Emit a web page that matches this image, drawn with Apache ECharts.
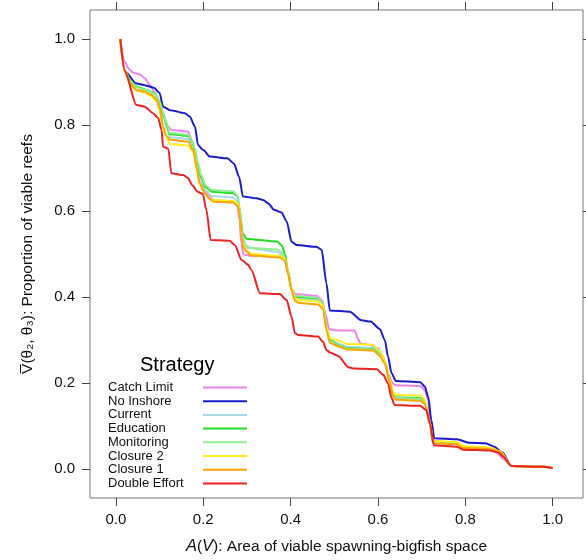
<!DOCTYPE html>
<html>
<head>
<meta charset="utf-8">
<script src="https://cdn.jsdelivr.net/npm/echarts@6.0.0/dist/echarts.min.js"></script>
<style>
html,body{margin:0;padding:0;background:#fff;}
#chart{width:586px;height:560px;}
</style>
</head>
<body>
<div id="chart"></div>
<script>
// ---- data ----
const strategies = ["Catch Limit","No Inshore","Current","Education","Monitoring","Closure 2","Closure 1","Double Effort"];
const colors = ["#ee82ee","#1c1ccc","#a8d8ea","#22dd22","#90ee90","#ffee22","#ffa500","#ee2222"];
const tickValues = [0,0.2,0.4,0.6,0.8,1.0];

const catchLimit = [[0.01,1.0],[0.02,0.948],[0.03,0.93],[0.04,0.922],[0.055,0.918],[0.066,0.909],[0.078,0.893],[0.089,0.876],[0.1,0.855],[0.108,0.822],[0.116,0.8],[0.128,0.789],[0.165,0.785],[0.175,0.762],[0.181,0.735],[0.186,0.703],[0.192,0.665],[0.204,0.649],[0.215,0.632],[0.225,0.626],[0.268,0.622],[0.278,0.612],[0.283,0.58],[0.287,0.525],[0.292,0.499],[0.31,0.496],[0.375,0.494],[0.386,0.487],[0.394,0.458],[0.402,0.42],[0.41,0.407],[0.46,0.403],[0.472,0.392],[0.48,0.36],[0.488,0.326],[0.5,0.323],[0.547,0.322],[0.553,0.305],[0.56,0.292],[0.58,0.289],[0.6,0.281],[0.612,0.261],[0.623,0.223],[0.633,0.2],[0.64,0.195],[0.696,0.193],[0.707,0.184],[0.715,0.16],[0.72,0.11],[0.727,0.066],[0.78,0.058],[0.795,0.05],[0.858,0.047],[0.872,0.038],[0.886,0.024],[0.9055,0.007],[0.978,0.005],[1.0,0.002]];

const noInshore = [[0.01,1.0],[0.0206,0.925],[0.047,0.897],[0.07,0.892],[0.087,0.887],[0.1,0.875],[0.108,0.843],[0.124,0.835],[0.158,0.828],[0.169,0.82],[0.181,0.797],[0.188,0.754],[0.2,0.742],[0.215,0.727],[0.255,0.723],[0.27,0.711],[0.282,0.68],[0.291,0.634],[0.322,0.63],[0.337,0.626],[0.349,0.618],[0.362,0.603],[0.379,0.597],[0.391,0.576],[0.402,0.529],[0.4135,0.521],[0.459,0.517],[0.471,0.51],[0.482,0.432],[0.4897,0.369],[0.5355,0.366],[0.562,0.346],[0.583,0.343],[0.604,0.326],[0.6156,0.3],[0.623,0.261],[0.631,0.223],[0.641,0.205],[0.697,0.202],[0.707,0.192],[0.715,0.168],[0.722,0.114],[0.729,0.0714],[0.781,0.069],[0.808,0.061],[0.846,0.06],[0.866,0.052],[0.884,0.039],[0.9055,0.007],[0.978,0.005],[1.0,0.002]];

const current = [[0.01,1.0],[0.02,0.93],[0.032,0.905],[0.047,0.888],[0.07,0.882],[0.089,0.872],[0.1,0.852],[0.108,0.822],[0.116,0.795],[0.124,0.772],[0.165,0.768],[0.175,0.752],[0.181,0.735],[0.188,0.7],[0.195,0.672],[0.205,0.648],[0.219,0.635],[0.268,0.632],[0.278,0.624],[0.284,0.59],[0.29,0.535],[0.3,0.515],[0.37,0.505],[0.38,0.498],[0.387,0.485],[0.394,0.455],[0.402,0.418],[0.41,0.398],[0.46,0.394],[0.474,0.382],[0.482,0.33],[0.49,0.299],[0.513,0.29],[0.53,0.284],[0.59,0.282],[0.604,0.269],[0.616,0.25],[0.627,0.206],[0.635,0.173],[0.642,0.168],[0.697,0.166],[0.707,0.158],[0.719,0.107],[0.726,0.062],[0.78,0.06],[0.795,0.051],[0.856,0.049],[0.879,0.041],[0.9055,0.007],[0.978,0.005],[1.0,0.002]];

const education = [[0.01,1.0],[0.02,0.928],[0.032,0.905],[0.047,0.89],[0.07,0.882],[0.089,0.874],[0.1,0.855],[0.108,0.828],[0.116,0.8],[0.124,0.779],[0.165,0.775],[0.175,0.76],[0.181,0.742],[0.188,0.708],[0.195,0.68],[0.205,0.656],[0.219,0.645],[0.268,0.642],[0.278,0.635],[0.284,0.6],[0.29,0.548],[0.3,0.535],[0.37,0.529],[0.38,0.52],[0.387,0.5],[0.394,0.46],[0.402,0.42],[0.41,0.401],[0.46,0.397],[0.474,0.385],[0.482,0.33],[0.49,0.3],[0.513,0.287],[0.53,0.281],[0.59,0.279],[0.604,0.266],[0.616,0.248],[0.627,0.205],[0.635,0.172],[0.642,0.166],[0.697,0.1645],[0.707,0.157],[0.719,0.106],[0.726,0.061],[0.78,0.059],[0.795,0.05],[0.856,0.048],[0.879,0.04],[0.9055,0.007],[0.978,0.005],[1.0,0.002]];

const monitoring = [[0.01,1.0],[0.02,0.928],[0.032,0.903],[0.047,0.888],[0.07,0.881],[0.089,0.873],[0.1,0.855],[0.108,0.83],[0.116,0.805],[0.124,0.782],[0.165,0.778],[0.175,0.762],[0.181,0.745],[0.188,0.712],[0.195,0.684],[0.205,0.66],[0.219,0.649],[0.268,0.646],[0.278,0.637],[0.284,0.6],[0.29,0.54],[0.297,0.52],[0.31,0.514],[0.37,0.511],[0.38,0.504],[0.387,0.49],[0.394,0.455],[0.402,0.418],[0.41,0.403],[0.46,0.399],[0.474,0.386],[0.482,0.33],[0.49,0.298],[0.513,0.286],[0.53,0.28],[0.59,0.278],[0.604,0.265],[0.616,0.247],[0.627,0.204],[0.635,0.17],[0.642,0.165],[0.697,0.163],[0.707,0.156],[0.719,0.106],[0.726,0.061],[0.78,0.059],[0.795,0.05],[0.856,0.048],[0.879,0.04],[0.9055,0.007],[0.978,0.005],[1.0,0.002]];

const closure2 = [[0.01,1.0],[0.02,0.925],[0.032,0.897],[0.047,0.88],[0.066,0.876],[0.082,0.867],[0.093,0.855],[0.1,0.835],[0.1045,0.81],[0.112,0.78],[0.124,0.756],[0.165,0.753],[0.175,0.74],[0.181,0.725],[0.186,0.69],[0.192,0.662],[0.204,0.64],[0.215,0.629],[0.223,0.626],[0.268,0.624],[0.28,0.616],[0.284,0.587],[0.288,0.549],[0.291,0.52],[0.3,0.508],[0.31,0.5],[0.375,0.496],[0.387,0.489],[0.394,0.458],[0.402,0.42],[0.41,0.397],[0.421,0.393],[0.463,0.39],[0.474,0.38],[0.482,0.33],[0.49,0.305],[0.513,0.298],[0.528,0.291],[0.589,0.289],[0.604,0.275],[0.616,0.252],[0.627,0.208],[0.635,0.177],[0.642,0.172],[0.697,0.171],[0.707,0.162],[0.719,0.108],[0.726,0.065],[0.78,0.063],[0.795,0.053],[0.856,0.05],[0.879,0.041],[0.9055,0.007],[0.978,0.005],[1.0,0.002]];

const closure1 = [[0.01,1.0],[0.02,0.926],[0.032,0.898],[0.047,0.882],[0.066,0.878],[0.082,0.87],[0.093,0.859],[0.1007,0.839],[0.108,0.797],[0.116,0.775],[0.124,0.766],[0.165,0.762],[0.177,0.742],[0.1846,0.7],[0.192,0.665],[0.2037,0.642],[0.215,0.628],[0.223,0.622],[0.268,0.62],[0.28,0.612],[0.284,0.585],[0.2876,0.549],[0.291,0.517],[0.299,0.506],[0.31,0.497],[0.375,0.492],[0.387,0.485],[0.394,0.455],[0.402,0.416],[0.41,0.391],[0.421,0.386],[0.463,0.383],[0.474,0.373],[0.482,0.323],[0.49,0.293],[0.513,0.284],[0.528,0.278],[0.589,0.276],[0.604,0.263],[0.616,0.245],[0.627,0.202],[0.635,0.167],[0.642,0.161],[0.697,0.159],[0.707,0.152],[0.719,0.105],[0.726,0.06],[0.78,0.058],[0.795,0.049],[0.856,0.047],[0.879,0.04],[0.9055,0.007],[0.978,0.005],[1.0,0.002]];

const doubleEffort = [[0.01,1.0],[0.0206,0.925],[0.047,0.847],[0.066,0.843],[0.085,0.828],[0.097,0.816],[0.1045,0.789],[0.108,0.75],[0.12,0.745],[0.127,0.688],[0.154,0.684],[0.165,0.677],[0.175,0.66],[0.187,0.645],[0.199,0.64],[0.207,0.603],[0.217,0.533],[0.26,0.531],[0.272,0.521],[0.288,0.486],[0.303,0.475],[0.31,0.463],[0.33,0.409],[0.375,0.407],[0.391,0.393],[0.402,0.354],[0.41,0.316],[0.417,0.312],[0.463,0.308],[0.474,0.296],[0.482,0.277],[0.49,0.271],[0.509,0.263],[0.532,0.237],[0.543,0.234],[0.597,0.232],[0.612,0.219],[0.623,0.199],[0.631,0.165],[0.638,0.149],[0.696,0.147],[0.711,0.137],[0.719,0.106],[0.728,0.055],[0.78,0.052],[0.795,0.045],[0.856,0.043],[0.877,0.038],[0.886,0.029],[0.9055,0.007],[0.978,0.005],[1.0,0.002]];

const seriesData = [catchLimit, noInshore, current, education, monitoring, closure2, closure1, doubleEffort];

// ---- chart ----
const chart = echarts.init(document.getElementById('chart'), null, {renderer:'canvas'});
const FONT = 'Liberation Sans, Arial, sans-serif';
const fmt = v => v.toFixed(1);

const option = {
  backgroundColor: '#ffffff',
  animation: false,
  textStyle: {fontFamily: FONT},
  title: {
    text: 'Strategy', left: 140, top: 355, padding: 0,
    textStyle: {fontFamily: FONT, fontSize: 20, fontWeight: 'normal', color: '#000'}
  },
  grid: {left: 90, right: 3, top: 10, bottom: 62, show: true, borderColor: '#777', borderWidth: 1, backgroundColor: 'transparent'},
  legend: {
    orient: 'vertical', left: 108, top: 381, align: 'right',
    icon: 'rect', itemWidth: 44, itemHeight: 2, itemGap: 0.7, padding: 0,
    formatter: '{a|{name}}',
    textStyle: {fontFamily: FONT, fontSize: 13, color: '#111',
      rich: {a: {width: 90, align: 'left', fontSize: 13, height: 13, lineHeight: 13, fontFamily: FONT, color: '#111'}}},
    data: strategies
  },
  xAxis: [{
    type: 'value', min: -0.0593, max: 1.0693, position: 'bottom',
    axisLine: {show: false, onZero: false}, splitLine: {show: false},
    axisTick: {show: true, length: 8, lineStyle: {color: '#444'}, customValues: tickValues},
    axisLabel: {customValues: tickValues, formatter: fmt, fontSize: 15, color: '#111', margin: 14, fontFamily: FONT},
    name: '{it|A}({it|V}): Area of viable spawning-bigfish space',
    nameLocation: 'middle', nameGap: 40,
    nameTextStyle: {fontSize: 15.5, color: '#111', fontFamily: FONT,
      rich: {it: {fontStyle: 'italic', fontSize: 16.5, fontFamily: FONT, color: '#111'}}}
  }, {
    type: 'value', min: -0.0593, max: 1.0693, position: 'top',
    axisLine: {show: false, onZero: false}, splitLine: {show: false},
    axisTick: {show: true, length: 8, lineStyle: {color: '#444'}, customValues: tickValues},
    axisLabel: {show: false}
  }],
  yAxis: [{
    type: 'value', min: -0.0675, max: 1.068, position: 'left',
    axisLine: {show: false, onZero: false}, splitLine: {show: false},
    axisTick: {show: true, length: 8, lineStyle: {color: '#444'}, customValues: tickValues},
    axisLabel: {customValues: tickValues, formatter: fmt, fontSize: 15, color: '#111', margin: 15, fontFamily: FONT},
    name: 'V\u0305(\u03b8\u2082, \u03b8\u2083): Proportion of viable reefs',
    nameLocation: 'middle', nameGap: 54,
    nameTextStyle: {fontSize: 15.5, color: '#111', fontFamily: FONT}
  }, {
    type: 'value', min: -0.0675, max: 1.068, position: 'right',
    axisLine: {show: false, onZero: false}, splitLine: {show: false},
    axisTick: {show: true, length: 6, lineStyle: {color: '#444'}, customValues: tickValues},
    axisLabel: {show: false}
  }],
  series: strategies.map((name, i) => ({
    name: name, type: 'line', data: seriesData[i],
    xAxisIndex: 0, yAxisIndex: 0,
    symbol: 'none', showSymbol: false,
    smooth: 0.25, smoothMonotone: 'x',
    lineStyle: {color: colors[i], width: 2},
    itemStyle: {color: colors[i]},
    z: 2 + i
  }))
};
chart.setOption(option);
</script>
</body>
</html>
